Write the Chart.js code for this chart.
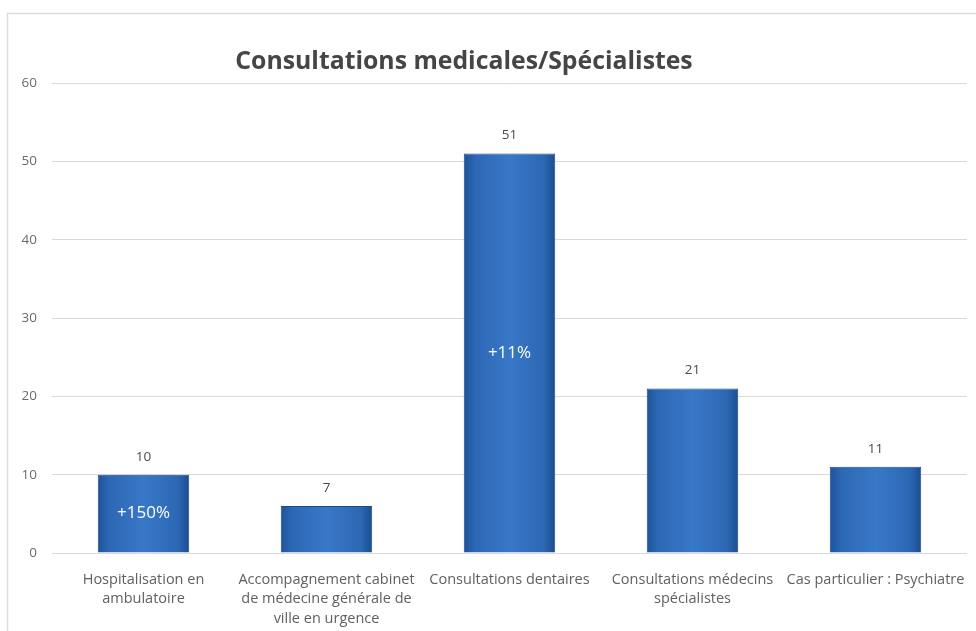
<!DOCTYPE html>
<html>
<head>
<meta charset="utf-8">
<script src="https://cdn.jsdelivr.net/npm/chart.js@4/dist/chart.umd.min.js"></script>
<style>
  html, body { margin: 0; padding: 0; background: #fff; }
  #wrap { width: 976px; height: 631px; }
</style>
</head>
<body>
<div id="wrap"><canvas id="chart"></canvas></div>
<script>
const title = 'Consultations medicales/Spécialistes';
const categories = [
  ['Hospitalisation en', 'ambulatoire'],
  ['Accompagnement cabinet', 'de médecine générale de', 'ville en urgence'],
  'Consultations dentaires',
  ['Consultations médecins', 'spécialistes'],
  'Cas particulier : Psychiatre'
];
const values = [10, 6, 51, 21, 11];
const valueLabels = ['10', '7', '51', '21', '11'];
const changeLabels = ['+150%', '', '+11%', '', ''];
const yTicks = [0, 10, 20, 30, 40, 50, 60];

const font = '"Open Sans", "Liberation Sans", sans-serif';

// bar fill: darker edges, lighter middle
function barFill(c) {
  const xs = c.chart.scales.x;
  if (!xs || c.dataIndex === undefined) return '#3474c2';
  const cx = xs.getPixelForValue(c.dataIndex);
  const half = xs.width / categories.length * 0.25;
  if (!isFinite(cx) || !isFinite(half) || half <= 0) return '#3474c2';
  const g = c.chart.ctx.createLinearGradient(cx - half, 0, cx + half, 0);
  g.addColorStop(0, '#1d5299');
  g.addColorStop(0.12, '#2c67b3');
  g.addColorStop(0.5, '#3978c8');
  g.addColorStop(0.88, '#2c67b3');
  g.addColorStop(1, '#1b4c8c');
  return g;
}

const frame = {
  id: 'frame',
  beforeDraw(chart) {
    const ctx = chart.ctx;
    ctx.save();
    ctx.fillStyle = '#fff';
    ctx.fillRect(0, 0, chart.width, chart.height);
    ctx.strokeStyle = '#dcdcdc';
    ctx.lineWidth = 1.5;
    ctx.strokeRect(7.5, 13.5, chart.width + 20, chart.height + 20);
    ctx.fillStyle = '#454545';
    ctx.font = 'bold 24.8px ' + font;
    ctx.textAlign = 'center';
    ctx.textBaseline = 'alphabetic';
    ctx.fillText(title, 464, 69);
    ctx.restore();
  }
};

const barText = {
  id: 'barText',
  afterDatasetsDraw(chart) {
    const ctx = chart.ctx;
    const meta = chart.getDatasetMeta(0);
    ctx.save();
    ctx.textAlign = 'center';
    ctx.textBaseline = 'middle';
    meta.data.forEach((bar, i) => {
      ctx.fillStyle = '#4a4a4a';
      ctx.font = '13.5px ' + font;
      ctx.fillText(valueLabels[i], bar.x, bar.y - 18);
      if (changeLabels[i]) {
        ctx.fillStyle = '#ffffff';
        ctx.font = '17px ' + font;
        ctx.fillText(changeLabels[i], bar.x, (bar.y + bar.base) / 2);
      }
    });
    ctx.restore();
  }
};

new Chart(document.getElementById('chart'), {
  type: 'bar',
  data: {
    labels: categories,
    datasets: [{
      data: values,
      backgroundColor: barFill,
      borderColor: '#1c4b88',
      borderWidth: 1,
      categoryPercentage: 1,
      barPercentage: 0.5
    }]
  },
  options: {
    responsive: true,
    maintainAspectRatio: false,
    animation: false,
    layout: { padding: { top: 83, right: 9, left: 0, bottom: 0 } },
    plugins: {
      legend: { display: false },
      tooltip: { enabled: false },
      title: { display: false }
    },
    scales: {
      x: {
        grid: { display: false },
        border: { display: false },
        ticks: {
          color: '#606060',
          font: { family: font, size: 14.5, lineHeight: 1.35 },
          padding: 9,
          maxRotation: 0,
          autoSkip: false
        },
        afterFit(s) { s.height = 78; }
      },
      y: {
        min: 0,
        max: 60,
        afterBuildTicks(s) { s.ticks = yTicks.map(v => ({ value: v })); },
        grid: { color: '#d9d9d9', lineWidth: 1, drawTicks: false },
        border: { display: false },
        ticks: {
          color: '#6b6b6b',
          font: { family: font, size: 13.5 },
          padding: 15
        },
        afterFit(s) { s.width = 52; }
      }
    }
  },
  plugins: [frame, barText]
});
</script>
</body>
</html>
